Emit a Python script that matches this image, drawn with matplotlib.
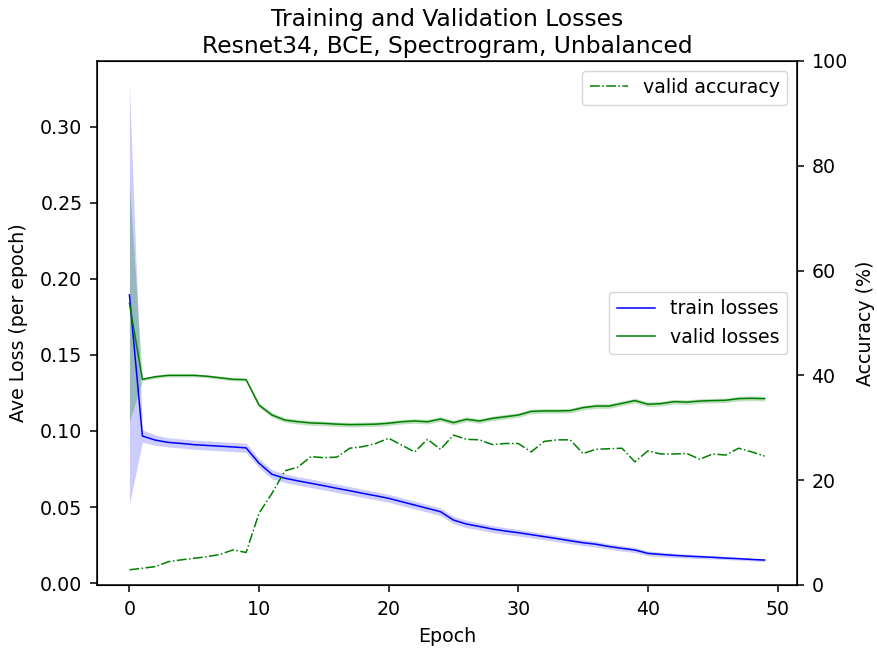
import numpy as np
import matplotlib
matplotlib.use("Agg")
import matplotlib.pyplot as plt

epochs = list(range(50))

train_loss = [0.1895, 0.0967, 0.0940, 0.0925, 0.0918, 0.0910, 0.0905, 0.0900, 0.0895, 0.0889,
              0.0788, 0.0715, 0.0689, 0.0672, 0.0656, 0.0640, 0.0623, 0.0607, 0.0590, 0.0574,
              0.0557, 0.0535, 0.0513, 0.0491, 0.0469, 0.0414, 0.0388, 0.0372, 0.0355, 0.0342,
              0.0331, 0.0318, 0.0305, 0.0292, 0.0278, 0.0265, 0.0255, 0.0240, 0.0228, 0.0217,
              0.0195, 0.0188, 0.0182, 0.0177, 0.0173, 0.0169, 0.0164, 0.0160, 0.0155, 0.0151]
train_std = [0.1376, 0.0040, 0.0035, 0.0030, 0.0030, 0.0030, 0.0030, 0.0030, 0.0030, 0.0030,
             0.0030, 0.0030, 0.0028, 0.0028, 0.0028, 0.0028, 0.0028, 0.0027, 0.0027, 0.0027,
             0.0026, 0.0026, 0.0026, 0.0025, 0.0025, 0.0024, 0.0024, 0.0023, 0.0023, 0.0022,
             0.0022, 0.0021, 0.0021, 0.0020, 0.0020, 0.0019, 0.0019, 0.0018, 0.0018, 0.0017,
             0.0016, 0.0015, 0.0014, 0.0013, 0.0012, 0.0011, 0.0010, 0.0010, 0.0009, 0.0009]

valid_loss = [0.1840, 0.1340, 0.1357, 0.1366, 0.1366, 0.1366, 0.1360, 0.1350, 0.1340, 0.1338,
              0.1170, 0.1105, 0.1072, 0.1061, 0.1053, 0.1050, 0.1045, 0.1042, 0.1043, 0.1045,
              0.1051, 0.1061, 0.1066, 0.1061, 0.1079, 0.1055, 0.1077, 0.1066, 0.1083, 0.1094,
              0.1105, 0.1129, 0.1132, 0.1132, 0.1134, 0.1154, 0.1164, 0.1164, 0.1182, 0.1200,
              0.1176, 0.1180, 0.1193, 0.1190, 0.1197, 0.1200, 0.1202, 0.1213, 0.1215, 0.1213]
valid_std = [0.0780, 0.0010, 0.0010, 0.0010, 0.0010, 0.0010, 0.0010, 0.0010, 0.0010, 0.0010,
             0.0015, 0.0015, 0.0015, 0.0015, 0.0015, 0.0015, 0.0015, 0.0015, 0.0015, 0.0015,
             0.0015, 0.0015, 0.0015, 0.0015, 0.0015, 0.0015, 0.0015, 0.0015, 0.0015, 0.0015,
             0.0015, 0.0015, 0.0015, 0.0015, 0.0015, 0.0015, 0.0015, 0.0015, 0.0015, 0.0015,
             0.0015, 0.0015, 0.0015, 0.0015, 0.0015, 0.0015, 0.0015, 0.0015, 0.0015, 0.0015]

valid_acc = [2.9, 3.2, 3.5, 4.45, 4.8, 5.1, 5.4, 5.85, 6.7, 6.2,
             13.7, 17.5, 21.8, 22.5, 24.5, 24.3, 24.4, 26.1, 26.4, 27.0,
             28.0, 26.7, 25.4, 27.8, 25.9, 28.6, 27.8, 27.7, 26.8, 27.0,
             27.0, 25.4, 27.4, 27.7, 27.7, 25.1, 25.9, 26.0, 26.1, 23.5,
             25.6, 25.0, 25.0, 25.1, 24.0, 25.0, 24.8, 26.1, 25.4, 24.6]

title = "Training and Validation Losses\nResnet34, BCE, Spectrogram, Unbalanced"

FS = 13.7
x = np.array(epochs)
tl = np.array(train_loss); ts = np.array(train_std)
vl = np.array(valid_loss); vs = np.array(valid_std)

fig = plt.figure(figsize=(8.78, 6.51), dpi=100)
ax1 = fig.add_axes([0.1105, 0.1014, 0.7972, 0.8049])
ax1.plot(x, tl, color="blue", lw=1.1, label="train losses")
ax1.fill_between(x, tl - ts, tl + ts, color="blue", alpha=0.2, lw=0)
ax1.plot(x, vl, color="green", lw=1.1, label="valid losses")
ax1.fill_between(x, vl - vs, vl + vs, color="green", alpha=0.25, lw=0)
ax1.set_ylim(-0.0013, 0.3434)
ax1.set_xlim(-2.5, 51.5)
ax1.set_xticks([0, 10, 20, 30, 40, 50])
ax1.set_yticks([0.0, 0.05, 0.10, 0.15, 0.20, 0.25, 0.30])
ax1.set_yticklabels(["0.00", "0.05", "0.10", "0.15", "0.20", "0.25", "0.30"])
ax1.set_xlabel("Epoch", fontsize=FS, labelpad=6)
ax1.set_ylabel("Ave Loss (per epoch)", fontsize=FS, labelpad=9)
ax1.tick_params(labelsize=FS, length=5, width=1.1, pad=5.5)
for s in ax1.spines.values():
    s.set_linewidth(1.1)
ax1.legend(loc="center right", fontsize=FS)
ax1.set_title(title, fontsize=16.8, pad=6)

ax2 = ax1.twinx()
ax2.plot(x, valid_acc, color="green", lw=1.1, ls="-.", label="valid accuracy")
ax2.set_ylim(0, 100)
ax2.set_ylabel("Accuracy (%)", fontsize=FS, labelpad=6)
ax2.tick_params(labelsize=FS, length=5, width=1.1, pad=5.5)
ax2.legend(loc="upper right", fontsize=FS)

fig.savefig("out.png", dpi=100)
